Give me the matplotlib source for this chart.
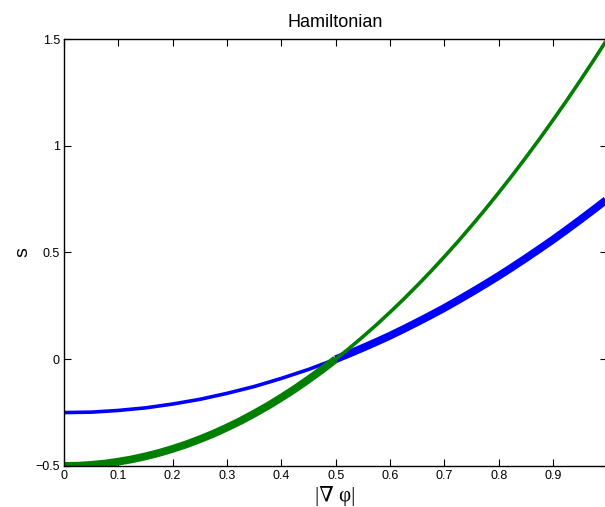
import numpy as np
import matplotlib
matplotlib.use("Agg")
from matplotlib import pyplot as plt

# valores
x = [0.0, 0.025, 0.05, 0.075, 0.1, 0.125, 0.15, 0.175, 0.2, 0.225, 0.25,
     0.275, 0.3, 0.325, 0.35, 0.375, 0.4, 0.425, 0.45, 0.475, 0.5,
     0.525, 0.55, 0.575, 0.6, 0.625, 0.65, 0.675, 0.7, 0.725, 0.75,
     0.775, 0.8, 0.825, 0.85, 0.875, 0.9, 0.925, 0.95, 0.975, 1.0]
azul = [-0.25, -0.249, -0.248, -0.244, -0.24, -0.234, -0.228, -0.219, -0.21, -0.199, -0.188,
        -0.174, -0.16, -0.144, -0.128, -0.109, -0.09, -0.069, -0.048, -0.024, 0.0,
        0.026, 0.053, 0.081, 0.11, 0.141, 0.173, 0.206, 0.24, 0.276, 0.313,
        0.351, 0.39, 0.431, 0.473, 0.516, 0.56, 0.606, 0.653, 0.701, 0.75]
verde = [-0.5, -0.499, -0.495, -0.489, -0.48, -0.469, -0.455, -0.439, -0.42, -0.399, -0.375,
         -0.349, -0.32, -0.289, -0.255, -0.219, -0.18, -0.139, -0.095, -0.049, 0.0,
         0.051, 0.105, 0.161, 0.22, 0.281, 0.345, 0.411, 0.48, 0.551, 0.625,
         0.701, 0.78, 0.861, 0.945, 1.031, 1.12, 1.211, 1.305, 1.401, 1.5]
corte = 20  # indice de x = 0.5

plt.rcParams['font.family'] = ['Liberation Sans', 'DejaVu Sans']

fig = plt.figure(figsize=(6.05, 5.07), dpi=100)
ax = fig.add_axes([0.1058, 0.081, 0.898, 0.842])

# tramos finos y gruesos
ax.plot(x[:corte + 1], azul[:corte + 1], color='#0000ff', lw=2.6, solid_capstyle='butt')
ax.plot(x[corte:], azul[corte:], color='#0000ff', lw=5.6, solid_capstyle='butt')
ax.plot(x[:corte + 1], verde[:corte + 1], color='#007f00', lw=5.6, solid_capstyle='butt')
ax.plot(x[corte:], verde[corte:], color='#007f00', lw=2.6, solid_capstyle='butt')

ax.set_xlim(0, 1)
ax.set_ylim(-0.5, 1.5)
ax.set_xticks(np.arange(0, 1.01, 0.1))
ax.set_xticklabels(['0', '0.1', '0.2', '0.3', '0.4', '0.5', '0.6', '0.7', '0.8', '0.9', '1'])
ax.set_yticks([-0.5, 0, 0.5, 1, 1.5])
ax.set_yticklabels(['\u22120.5', '0', '0.5', '1', '1.5'])
ax.tick_params(direction='in', top=True, right=True, labelsize=9, length=5, width=0.8, pad=3)
for s in ax.spines.values():
    s.set_linewidth(1.0)

ax.set_title('Hamiltonian', fontsize=13, pad=9)
ax.set_ylabel('s', fontsize=14, labelpad=3)
ax.set_xlabel('|\u2207 \u03c6|', fontsize=15, family=['Liberation Serif', 'DejaVu Serif'], labelpad=3)

fig.savefig('out.png', dpi=100)
